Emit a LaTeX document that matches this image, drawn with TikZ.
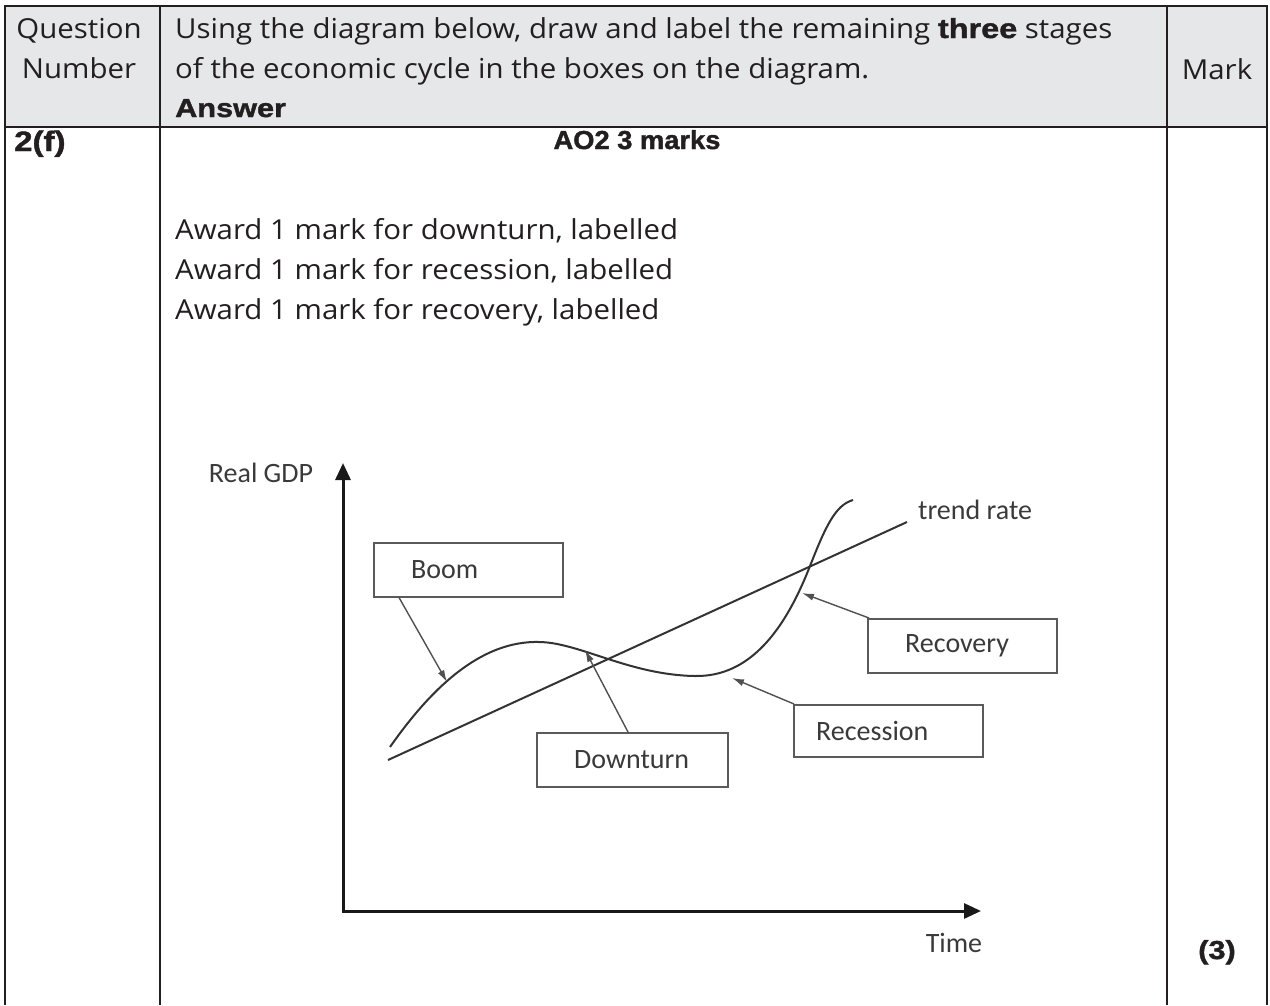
\documentclass[tikz,border=0pt]{standalone}
\usepackage{fontspec}
\setmainfont{Open Sans}[FakeStretch=1.07]
\newfontfamily\heavyfont{Liberation Sans}[BoldFeatures={FakeStretch=1.18,FakeBold=1.5}]
\newfontfamily\aofont{Liberation Sans}[BoldFeatures={FakeStretch=1.05,FakeBold=1.5}]
\newfontfamily\figfont{Carlito}
\usetikzlibrary{arrows.meta}
\definecolor{ink}{HTML}{231F20}
\definecolor{hdr}{HTML}{E6E7E8}
\definecolor{figink}{HTML}{333333}
\definecolor{figtxt}{HTML}{3A3A3A}
\definecolor{boxln}{HTML}{5A5A5A}
\definecolor{ptr}{HTML}{505050}
\begin{document}
\begin{tikzpicture}[x=1pt,y=-1pt,
  rule/.style={line width=2.5pt, draw=ink},
  bodytxt/.style={anchor=base west, inner sep=0pt, text=ink, font=\fontsize{27.5}{33}\selectfont},
  bodyctr/.style={anchor=base, inner sep=0pt, text=ink, font=\fontsize{27.5}{33}\selectfont},
  heavytxt/.style={anchor=base west, inner sep=0pt, text=ink, font={\heavyfont\fontsize{26}{30}\selectfont\bfseries}},
  figlbl/.style={inner sep=0pt, text=figtxt, font={\figfont\fontsize{28}{32}\selectfont}},
  stagebox/.style={draw=boxln, line width=2pt, fill=white, minimum width=189pt, minimum height=54pt, inner sep=0pt},
  stagelbl/.style={anchor=west, inner sep=0pt, text=figtxt, font={\figfont\fontsize{28}{32}\selectfont}},
  cyc/.style={draw=figink, line width=2pt},
  pointer/.style={draw=ptr, line width=1.4pt, -{Latex[length=12pt,width=7pt]}},
  axis/.style={draw=black!90, line width=3pt, {Triangle[length=17pt,width=15pt]}-{Triangle[length=17pt,width=15pt]}}
]
\useasboundingbox (0,0) rectangle (1270,1005);
% table
\fill[hdr] (5,6) rectangle (1267,127);
\draw[rule] (5,1005) -- (5,6) -- (1267,6) -- (1267,1005);
\draw[rule] (160,6) -- (160,1005);
\draw[rule] (1167,6) -- (1167,1005);
\draw[rule] (5,127) -- (1267,127);
% header texts
\node[bodyctr] (qn1) at (79,38) {Question};
\node[bodyctr] (qn2) at (79,78) {Number};
\node[bodytxt] (ql1) at (175,38) {Using the diagram below, draw and label the remaining {\heavyfont\bfseries three} stages};
\node[bodytxt] (ql2) at (175,78) {of the economic cycle in the boxes on the diagram.};
\node[heavytxt] (ans) at (175,117) {Answer};
\node[bodyctr] (mark) at (1217,79) {Mark};
% row 2
\node[heavytxt, font={\heavyfont\fontsize{28}{30}\selectfont\bfseries}] (qno) at (14,151) {2(f)};
\node[anchor=base, inner sep=0pt, text=ink, font={\aofont\fontsize{26}{30}\selectfont\bfseries}] (ao) at (637,149) {AO2 3 marks};
\node[bodytxt] (aw1) at (175,239) {Award 1 mark for downturn, labelled};
\node[bodytxt] (aw2) at (175,279) {Award 1 mark for recession, labelled};
\node[bodytxt] (aw3) at (175,319) {Award 1 mark for recovery, labelled};
\node[anchor=base, inner sep=0pt, text=ink, font={\heavyfont\fontsize{26}{30}\selectfont\bfseries}] (tot) at (1217,959) {(3)};
% axes
\coordinate (O) at (343,911);
\coordinate (ytop) at (343,463);
\coordinate (xend) at (981,911);
\draw[axis] (ytop) -- (O) -- (xend);
\node[figlbl] (ylab) at (261,473) {Real GDP};
\node[figlbl] (xlab) at (954,943) {Time};
% trend and cycle
\coordinate (t0) at (388,760);
\coordinate (t1) at (907,522);
\draw[cyc] (t0) -- (t1);
\node[figlbl, anchor=west] (trend) at (918,510) {trend rate};
\draw[cyc] (390,747) .. controls (430,690) and (480,640) .. (540,642)
  .. controls (580,643) and (630,675) .. (695,676)
  .. controls (750,677) and (785,630) .. (810,566)
  .. controls (825,528) and (835,505) .. (853,500);
% boxes
\node[stagebox] (boom) at (468.5,569.5) {};
\node[stagelbl] (boomt) at ([xshift=38pt]boom.west) {Boom};
\node[stagebox, minimum width=191pt] (down) at (632.5,760) {};
\node[stagelbl] (downt) at ([xshift=38pt]down.west) {Downturn};
\node[stagebox, minimum height=52pt] (rec) at (888.5,731) {};
\node[stagelbl] (rect) at ([xshift=23pt]rec.west) {Recession};
\node[stagebox] (recov) at (962.5,646) {};
\node[stagelbl] (recovt) at ([xshift=38pt]recov.west) {Recovery};
% pointers
\coordinate (boomtip) at (447,682);
\coordinate (downtip) at (585,650);
\coordinate (rectip) at (732,678);
\coordinate (recovtip) at (802,593);
\draw[pointer] ([xshift=26pt]boom.south west) -- (boomtip);
\draw[pointer] ([xshift=-4.5pt]down.north) -- (downtip);
\draw[pointer] ([xshift=1pt]rec.north west) -- (rectip);
\draw[pointer] ([xshift=2pt]recov.north west) -- (recovtip);
\end{tikzpicture}
\end{document}
